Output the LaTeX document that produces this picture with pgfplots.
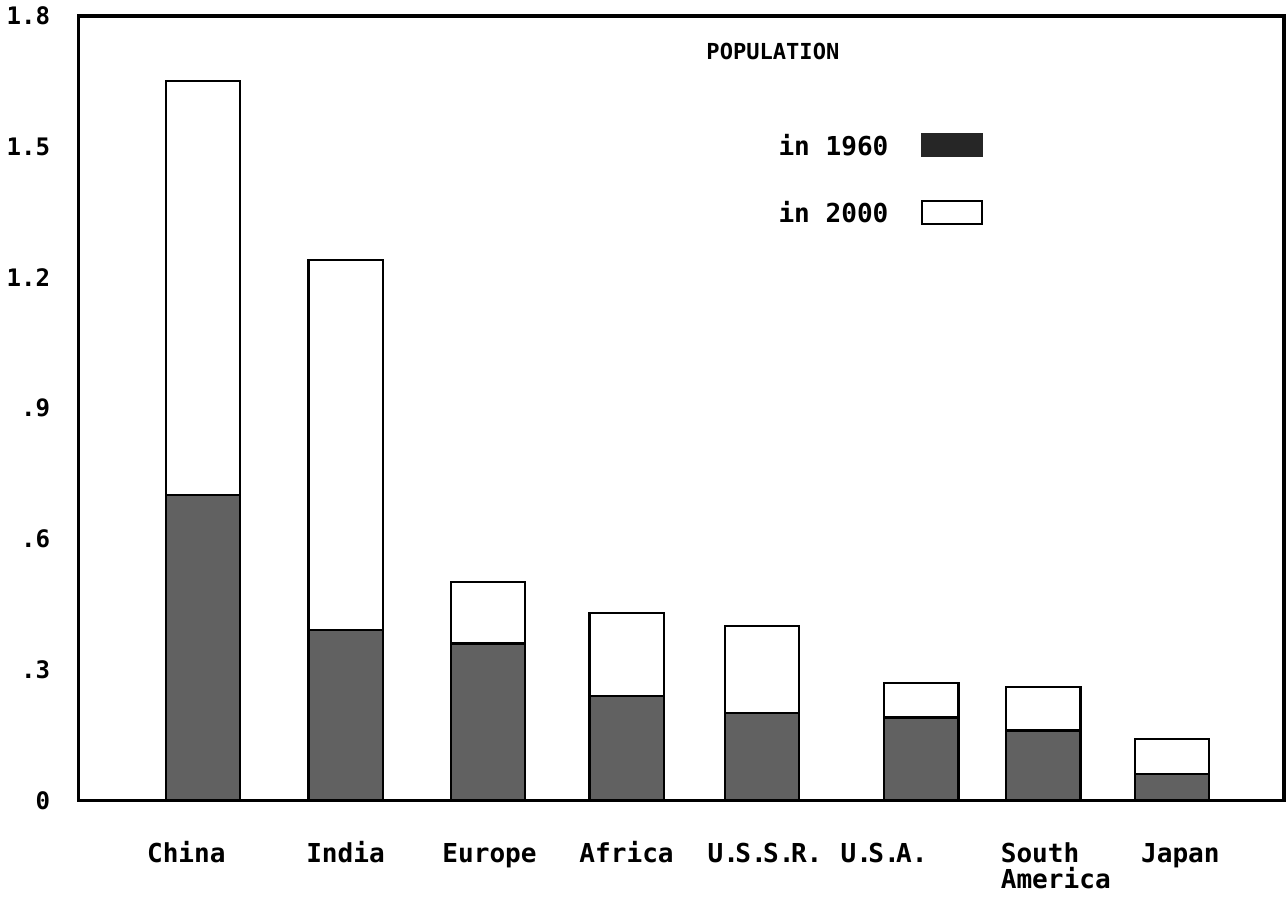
\documentclass[border=0pt]{standalone}
\usepackage{fontspec}
\setmainfont{DejaVu Sans Mono}
\usepackage{pgfplots}
\pgfplotsset{compat=1.18}
\newcommand\dt{.\kern-1.8pt}
\begin{document}
\begin{tikzpicture}
\begin{axis}[
  scale only axis, width=601pt, height=391pt,
  xmin=-0.9, xmax=7.81, ymin=0, ymax=1.8,
  axis line style={line width=1.8pt},
  ytick={0,0.3,0.6,0.9,1.2,1.5,1.8},
  yticklabels={0,.3,.6,.9,1.2,1.5,1.8},
  xtick={-0.12,1.03,2.07,3.06,4.06,4.92,6.16,7.06},
  xticklabels={China,India,Europe,Africa,{U\dt S\dt S\dt R.},{U\dt S\dt A.},{\begin{tabular}[t]{@{}l@{}}South\\[-2pt]America\end{tabular}},Japan},
  xticklabel style={anchor=base, font=\bfseries\fontsize{13}{15}\selectfont, yshift=-31pt},
  yticklabel style={font=\bfseries\fontsize{12}{14}\selectfont, xshift=-10.5pt},
  major tick length=0pt,
  reverse legend,
  legend style={draw=none, fill=none, at={(0.572,0.86)}, anchor=north west,
    font=\bfseries\fontsize{13}{15}\selectfont, row sep=17.5pt,
    /tikz/every odd column/.append style={column sep=14pt}},
  legend plot pos=right,
]
\addplot[ybar, bar width=37pt, bar shift=0pt, fill=white, draw=black, line width=1.1pt,
  legend image code/.code={\draw[fill=white,draw=black,line width=1pt] (0pt,-5pt) rectangle (30pt,6pt);}]
  coordinates {(0,1.65) (1.03,1.24) (2.06,0.50) (3.06,0.43) (4.04,0.40) (5.19,0.27) (6.07,0.26) (7.0,0.14)};
\addlegendentry{in 2000}
\addplot[ybar, bar width=37pt, bar shift=0pt, fill=black!62, draw=black, line width=1.1pt,
  legend image code/.code={\fill[black!85] (0pt,-5pt) rectangle (30pt,6pt);}]
  coordinates {(0,0.70) (1.03,0.39) (2.06,0.36) (3.06,0.24) (4.04,0.20) (5.19,0.19) (6.07,0.16) (7.0,0.06)};
\addlegendentry{in 1960}
\node[font=\bfseries\fontsize{11}{13}\selectfont] at (rel axis cs:0.576,0.955) {POPULATION};
\end{axis}
\end{tikzpicture}
\end{document}
